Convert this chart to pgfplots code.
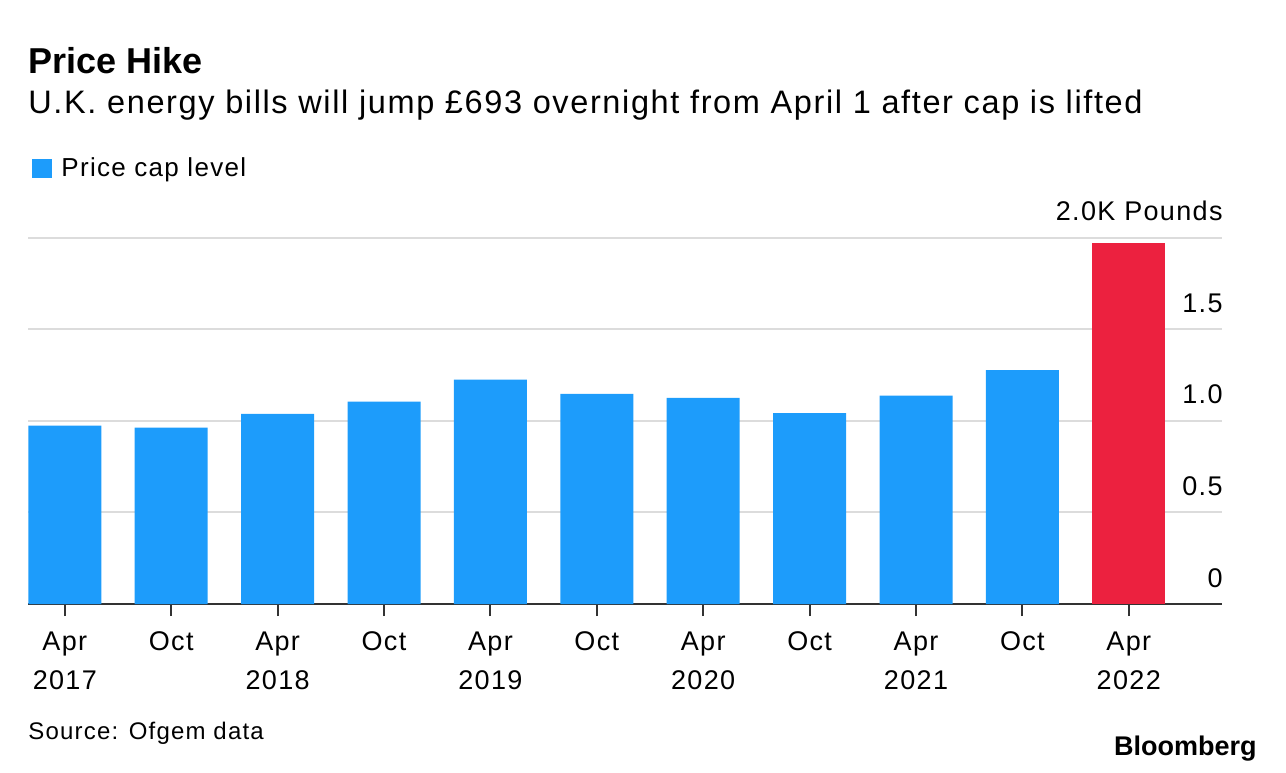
\documentclass[border=0pt]{standalone}
\usepackage{fontspec}
\setmainfont{Liberation Sans}[LetterSpace=5]
\newfontfamily\plainfont{Liberation Sans}
\usepackage{pgfplots}
\pgfplotsset{compat=1.18}

\definecolor{capblue}{HTML}{1D9CFB}
\definecolor{capred}{HTML}{EC213F}
\definecolor{gridgray}{HTML}{DCDCDC}
\definecolor{axisdark}{HTML}{333333}

\begin{document}
\begin{tikzpicture}
\path[use as bounding box] (-14pt,-84pt) rectangle (629pt,302pt);
\begin{axis}[
    scale only axis,
    width=597pt, height=183.1pt,
    xmin=-0.346, xmax=10.876,
    ymin=0, ymax=2,
    axis x line*=bottom,
    axis y line*=right,
    x axis line style={draw=axisdark, line width=1.2pt, -},
    y axis line style={draw=none},
    xtick={0,...,10},
    xticklabels={{Apr\\2017},Oct,{Apr\\2018},Oct,{Apr\\2019},Oct,{Apr\\2020},Oct,{Apr\\2021},Oct,{Apr\\2022}},
    xticklabel style={align=center, font=\fontsize{13.5}{19.5}\selectfont, yshift=-4.5pt},
    ytick={0,0.5,1,1.5,2},
    yticklabels={0,0.5,1.0,1.5,2.0K Pounds},
    yticklabel style={anchor=base east, inner sep=0pt, font=\fontsize{13.5}{16}\selectfont,
        xshift=-5.5pt, yshift=8.5pt},
    tick align=outside,
    xtick style={draw=axisdark, line width=1pt},
    ytick style={draw=none},
    major tick length=6pt,
    ymajorgrids=true,
    grid style={draw=gridgray, line width=1pt},
    /pgf/number format/assume math mode=true,
    legend style={at={(axis description cs:0.0034,1.23)}, anchor=north west,
        draw=none, fill=none, inner sep=0pt, font=\fontsize{13}{15}\selectfont},
    legend image code/.code={\fill[capblue] (0pt,-4.75pt) rectangle (10pt,4.75pt);
        \path (12.5pt,0pt);},
]

% price cap level, thousand pounds
\addplot[ybar, bar width=36.5pt, bar shift=0pt, fill=capblue, draw=none]
    coordinates {(0,0.974) (1,0.963) (2,1.039) (3,1.105) (4,1.225) (5,1.148)
                 (6,1.126) (7,1.042) (8,1.138) (9,1.277)};
\addlegendentry{Price cap level}

\addplot[ybar, bar width=36.5pt, bar shift=0pt, fill=capred, draw=none, forget plot]
    coordinates {(10,1.971)};

\end{axis}

\node[anchor=base west, inner sep=0pt, font=\plainfont\bfseries\fontsize{18}{20}\selectfont]
    at (0pt,265.4pt) {Price Hike};
\node[anchor=base west, inner sep=0pt, font=\fontsize{16.25}{18}\selectfont]
    at (0pt,245.1pt) {U.K. energy bills will jump £693 overnight from April 1 after cap is lifted};
\node[anchor=base west, inner sep=0pt, font=\fontsize{12}{14}\selectfont]
    at (0pt,-67.75pt) {Source: Ofgem data};
\node[anchor=base east, inner sep=0pt, font=\plainfont\bfseries\fontsize{13.5}{15}\selectfont]
    at (614.5pt,-75.75pt) {Bloomberg};
\end{tikzpicture}
\end{document}
